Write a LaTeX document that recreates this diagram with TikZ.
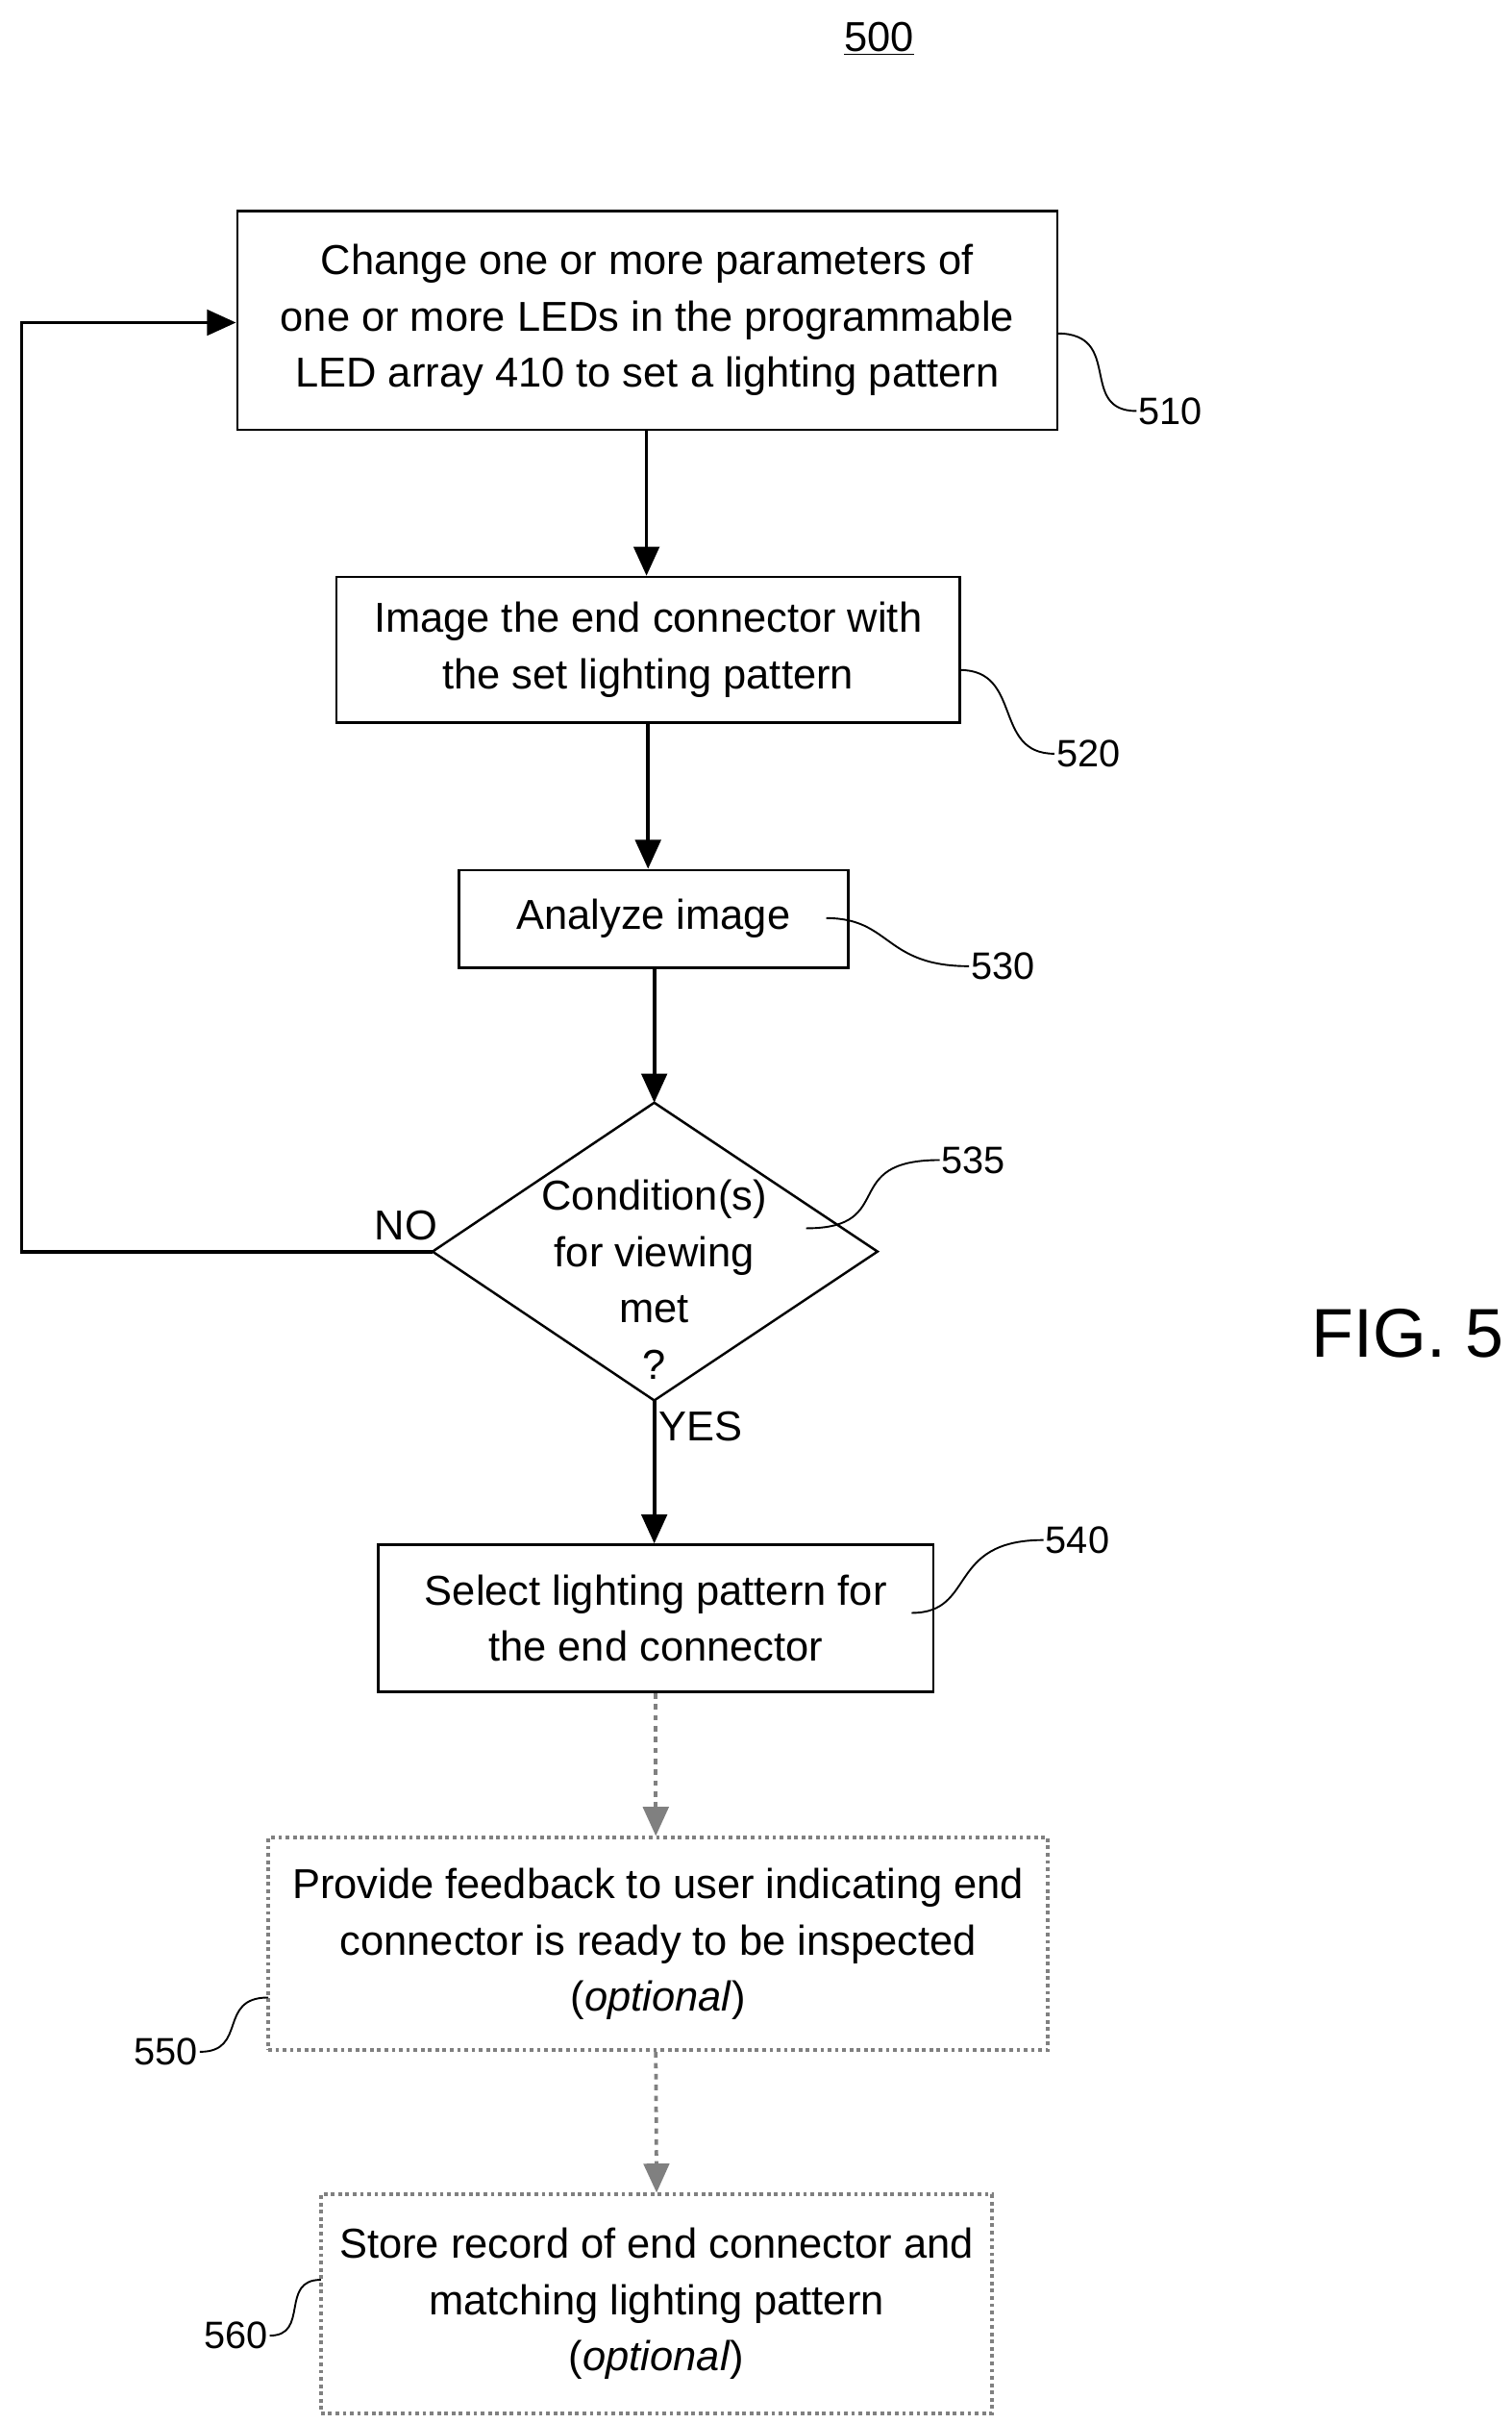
\documentclass[tikz,border=0pt]{standalone}
\usepackage{fontspec}
\setmainfont{Liberation Sans}
\usetikzlibrary{arrows.meta}
\begin{document}
\begin{tikzpicture}[x=0.03cm,y=-0.03cm,
  txt/.style={font=\fontsize{23}{31}\selectfont,align=center},
  box/.style={draw,line width=1.3pt,txt,inner sep=0pt},
  obox/.style={draw=gray,dotted,line width=2pt,txt,inner sep=0pt},
  arr/.style={line width=2pt,-{Triangle[length=16pt,width=14pt]}},
  darr/.style={line width=2pt,gray,dashed,-{Triangle[length=16pt,width=14pt]}},
  lbl/.style={font=\fontsize{21}{25}\selectfont,inner sep=1pt},
  sq/.style={line width=1pt}]
\useasboundingbox (0,0) rectangle (975,1563);
\node[txt] (n500) at (567,25) {\underline{500}};
\node[font=\fontsize{38}{44}\selectfont] (fig) at (908,860) {FIG. 5};
\node[box,minimum width=529\pgflinewidth/1.3pt*0+529*0.03cm,minimum height=141*0.03cm] (b510) at (417.5,206.5) {Change one or more parameters of\\one or more LEDs in the programmable\\LED array 410 to set a lighting pattern};
\node[box,minimum width=402*0.03cm,minimum height=94*0.03cm] (b520) at (418,419) {Image the end connector with\\the set lighting pattern};
\node[box,minimum width=251*0.03cm,minimum height=63*0.03cm] (b530) at (421.5,592.5) {Analyze image};
\coordinate (dt) at (422,711); \coordinate (db) at (422,903);
\coordinate (dl) at (279,807); \coordinate (dr) at (566,807);
\draw[line width=1.3pt] (dt) -- (dr) -- (db) -- (dl) -- cycle;
\node[txt] (d535) at (422,825) {Condition(s)\\for viewing\\met\\?};
\node[box,minimum width=358*0.03cm,minimum height=95*0.03cm] (b540) at (423,1043.5) {Select lighting pattern for\\the end connector};
\node[obox,minimum width=503*0.03cm,minimum height=137*0.03cm] (b550) at (424.5,1253.5) {Provide feedback to user indicating end\\connector is ready to be inspected\\(\textit{optional})};
\node[obox,minimum width=433*0.03cm,minimum height=141*0.03cm] (b560) at (423.5,1485.5) {Store record of end connector and\\matching lighting pattern\\(\textit{optional})};
\draw[arr] (b510.south -| 417,0) -- (b520.north -| 417,0);
\draw[arr] (b520.south) -- (b520.south |- b530.north);
\draw[arr] (b530.south -| 422,0) -- (dt);
\draw[arr] (db) -- (b540.north -| db);
\draw[darr] (b540.south) -- (b550.north -| b540.south);
\draw[darr] (b550.south -| 423,0) -- (b560.north);
\coordinate (lc1) at (14,807); \coordinate (lc2) at (14,208);
\draw[arr] (dl) -- (lc1) -- (lc2) -- (b510.west |- lc2);
\node[txt] (no) at (262,790) {NO};
\node[txt] (yes) at (452,920) {YES};
% reference labels
\node[lbl] (l510) at (755,265) {510};
\node[lbl] (l520) at (702,486) {520};
\node[lbl] (l530) at (647,623) {530};
\node[lbl] (l535) at (628,748) {535};
\node[lbl] (l540) at (695,993) {540};
\node[lbl] (l550) at (107,1323) {550};
\node[lbl] (l560) at (152,1506) {560};
\coordinate (s510) at (682,215); \coordinate (s520) at (619,432);
\coordinate (s530) at (533,592); \coordinate (s535) at (520,792);
\coordinate (s540) at (588,1040); \coordinate (s550) at (173,1288);
\coordinate (s560) at (207,1470);
\draw[sq] (s510) .. controls (725,215) and (695,265) .. (l510.west);
\draw[sq] (s520) .. controls (660,432) and (640,486) .. (l520.west);
\draw[sq] (s530) .. controls (575,592) and (570,623) .. (l530.west);
\draw[sq] (s535) .. controls (580,792) and (540,748) .. (l535.west);
\draw[sq] (s540) .. controls (630,1040) and (610,993) .. (l540.west);
\draw[sq] (s550) .. controls (140,1288) and (160,1323) .. (l550.east);
\draw[sq] (s560) .. controls (180,1470) and (200,1506) .. (l560.east);
\end{tikzpicture}
\end{document}
